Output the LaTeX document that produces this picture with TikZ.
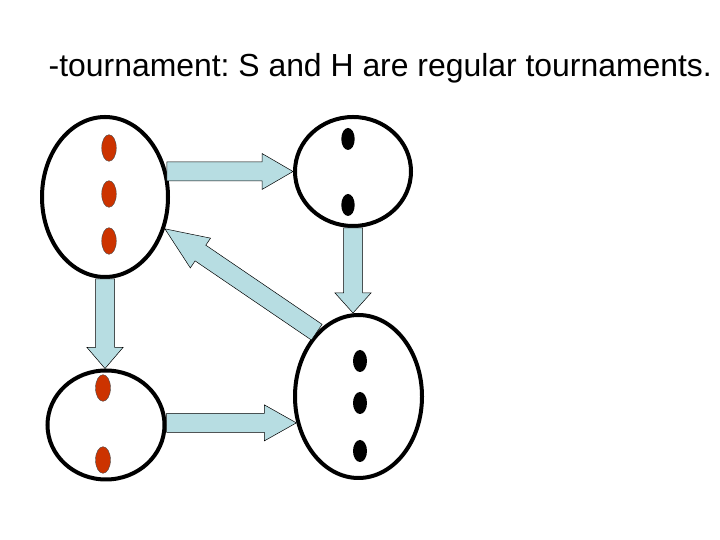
\documentclass[tikz,border=0pt]{standalone}
\usepackage{fontspec}
\setmainfont{Liberation Sans}
\usetikzlibrary{calc,shapes.geometric}

\definecolor{arrowblue}{RGB}{183,221,226}
\definecolor{dotred}{RGB}{204,51,0}

\tikzset{
  group/.style={ellipse, draw=black, line width=4pt, fill=white, inner sep=0pt},
  blockarr/.style={draw=black, fill=arrowblue, line width=0.5pt, line join=miter},
  reddot/.style={fill=dotred, draw=black!70, line width=0.4pt},
  blackdot/.style={fill=black},
  title/.style={inner sep=0pt, font=\fontsize{31.9}{36}\selectfont\frenchspacing}
}

% block arrow: tail, tip, head length
\newcommand{\blockarrow}[3]{%
  \coordinate (hb) at ($(#2)!#3!(#1)$);
  \draw[blockarr] ($(#1)!9.5pt!90:(#2)$) -- ($(hb)!9.5pt!90:(#2)$) -- ($(hb)!18pt!90:(#2)$) -- (#2)
    -- ($(hb)!18pt!-90:(#2)$) -- ($(hb)!9.5pt!-90:(#2)$) -- ($(#1)!9.5pt!-90:(#2)$) -- cycle;}

\begin{document}
\begin{tikzpicture}[x=1pt, y=1pt]
  \useasboundingbox (0,0) rectangle (720,540);
  % title
  \node[title, anchor=base west] (head) at (48.5,463.3) {-tournament: S and H are regular tournaments.};
  % the four parts
  \node[group, minimum width=126pt, minimum height=160pt] (TL) at (105,343) {};
  \node[group, minimum width=116pt, minimum height=109pt] (TR) at (353,368.5) {};
  \node[group, minimum width=117pt, minimum height=109pt] (BL) at (106,115) {};
  \node[group, minimum width=127pt, minimum height=163pt] (BR) at (358.5,143.5) {};
  % vertices
  \draw[reddot] (109,392) ellipse (7.3pt and 13.3pt);
  \draw[reddot] (109,346) ellipse (7.3pt and 13.3pt);
  \draw[reddot] (109,299) ellipse (7.3pt and 13.3pt);
  \fill[blackdot] (348,401) ellipse (6.7pt and 11pt);
  \fill[blackdot] (348,335) ellipse (6.7pt and 11pt);
  \draw[reddot] (103,152) ellipse (7.5pt and 13.3pt);
  \draw[reddot] (103,80) ellipse (7.5pt and 13.3pt);
  \fill[blackdot] (360,179) ellipse (7pt and 11pt);
  \fill[blackdot] (360,137) ellipse (7pt and 11pt);
  \fill[blackdot] (360,89) ellipse (7pt and 11pt);
  % arrow ends
  \coordinate (t1) at (TL.22 |- TR.west);
  \coordinate (h2) at (TR.south |- BR.north);
  \coordinate (h3) at (TL.south |- BL.north);
  \coordinate (t4) at (BL.east |- BR.203);
  % arrows
  \blockarrow{t1}{TR.west}{31pt}
  \blockarrow{TR.south}{h2}{20pt}
  \blockarrow{TL.south}{h3}{21pt}
  \blockarrow{t4}{BR.203}{32pt}
  \blockarrow{BR.123}{TL.332}{43pt}
\end{tikzpicture}
\end{document}
